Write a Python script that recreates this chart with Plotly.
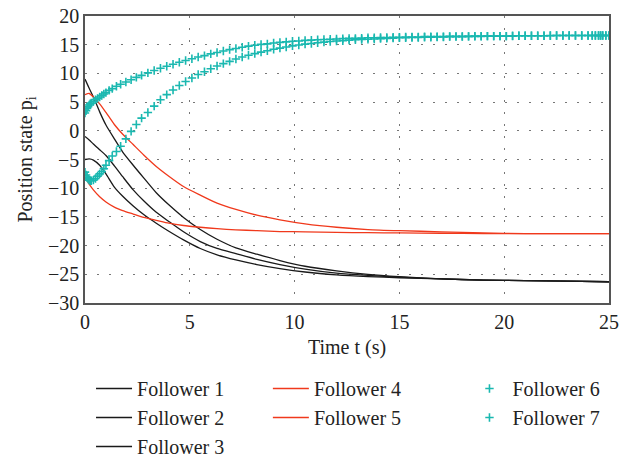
import plotly.graph_objects as go

# time samples for the solid curves (s)
t_line = [0, 0.2, 0.4, 0.7, 1.0, 1.4, 1.8, 2.3, 2.8, 3.4, 4.0, 4.7, 5.5, 6.3, 7.2,
          8.2, 9.3, 10.5, 12, 13.5, 15, 17, 19, 21, 23, 25]

follower1 = [9.0, 7.4, 5.9, 3.3, 1.0, -1.4, -3.7, -6.0, -8.2, -10.8, -12.9, -15.1, -17.2,
             -18.9, -20.4, -21.5, -22.6, -23.6, -24.4, -25.0, -25.4, -25.8, -26.0, -26.1,
             -26.2, -26.3]
follower2 = [-1.0, -1.6, -2.3, -3.3, -4.3, -6.1, -8.0, -10.3, -12.2, -14.2, -15.8, -17.6,
             -19.3, -20.5, -21.4, -22.4, -23.3, -24.1, -24.8, -25.2, -25.5, -25.8, -26.0,
             -26.1, -26.2, -26.3]
follower3 = [-5.0, -4.9, -5.1, -6.0, -7.5, -9.8, -11.4, -13.1, -14.6, -16.1, -17.5, -19.0,
             -20.5, -21.6, -22.5, -23.3, -24.0, -24.6, -25.1, -25.4, -25.6, -25.8, -26.0,
             -26.1, -26.2, -26.3]
follower4 = [6.3, 6.5, 5.9, 4.7, 3.2, 1.1, -0.6, -2.4, -4.2, -6.2, -7.9, -9.7, -11.2,
             -12.6, -13.7, -14.7, -15.5, -16.2, -16.8, -17.2, -17.4, -17.6, -17.8, -17.9,
             -17.9, -17.9]
follower5 = [-8.0, -9.3, -10.3, -11.5, -12.4, -13.3, -13.9, -14.5, -15.1, -15.6, -16.1,
             -16.5, -16.8, -17.05, -17.25, -17.4, -17.55, -17.6, -17.7, -17.75, -17.8,
             -17.85, -17.9, -17.9, -17.9, -17.9]

# time samples for the marker curves (s)
t_mark = [0, 0.05, 0.1, 0.15, 0.2, 0.25, 0.3, 0.4, 0.5, 0.6, 0.7, 0.8, 0.9, 1.0, 1.15,
          1.3, 1.5, 1.7, 1.95, 2.2, 2.45, 2.7, 3.0, 3.3, 3.6, 3.9, 4.2, 4.5, 4.8, 5.1,
          5.4, 5.7, 6.0, 6.3, 6.6, 6.9, 7.2, 7.5, 7.8, 8.1, 8.4, 8.7, 9.0, 9.3, 9.6,
          9.9, 10.2, 10.5, 10.8, 11.1, 11.4, 11.7, 12.0, 12.3, 12.6, 12.9, 13.2, 13.5,
          13.8, 14.1, 14.4, 14.7, 15.0, 15.3, 15.6, 15.9, 16.2, 16.5, 16.8, 17.1, 17.4,
          17.7, 18.0, 18.3, 18.6, 18.9, 19.2, 19.5, 19.8, 20.1, 20.4, 20.7, 21.0, 21.3,
          21.6, 21.9, 22.2, 22.5, 22.8, 23.1, 23.4, 23.7, 24.0, 24.2, 24.35, 24.5, 24.6,
          24.7, 24.85, 25.0]

follower6 = [3.1, 3.5, 3.9, 4.2, 4.5, 4.7, 4.85, 5.1, 5.4, 5.65, 5.9, 6.15, 6.4, 6.65,
             7.05, 7.35, 7.75, 8.1, 8.5, 8.9, 9.3, 9.65, 10.1, 10.5, 10.9, 11.25, 11.6,
             11.95, 12.25, 12.55, 12.85, 13.1, 13.4, 13.65, 13.9, 14.15, 14.35, 14.55,
             14.75, 14.9, 15.05, 15.15, 15.3, 15.4, 15.5, 15.6, 15.65, 15.75, 15.8,
             15.85, 15.9, 15.95, 16.0, 16.05, 16.1, 16.1, 16.15, 16.2, 16.2, 16.25,
             16.25, 16.3, 16.3, 16.35, 16.35, 16.35, 16.4, 16.4, 16.4, 16.4, 16.45,
             16.45, 16.45, 16.45, 16.5, 16.5, 16.5, 16.5, 16.5, 16.5, 16.55, 16.55,
             16.55, 16.55, 16.55, 16.55, 16.6, 16.6, 16.6, 16.6, 16.6, 16.6, 16.6,
             16.6, 16.6, 16.6, 16.6, 16.6, 16.6, 16.6]
follower7 = [-7.2, -7.7, -8.1, -8.4, -8.6, -8.7, -8.7, -8.6, -8.3, -7.9, -7.5, -7.1,
             -6.6, -6.0, -5.2, -4.4, -3.6, -2.7, -1.4, -0.1, 1.1, 2.2, 3.2, 4.3, 5.4,
             6.3, 7.1, 7.9, 8.6, 9.2, 9.8, 10.3, 10.8, 11.3, 11.7, 12.1, 12.5, 12.85,
             13.15, 13.45, 13.7, 13.95, 14.2, 14.4, 14.6, 14.8, 14.95, 15.1, 15.2,
             15.35, 15.45, 15.55, 15.65, 15.7, 15.8, 15.85, 15.9, 15.95, 16.0, 16.05,
             16.1, 16.15, 16.2, 16.2, 16.25, 16.25, 16.3, 16.3, 16.35, 16.35, 16.4,
             16.4, 16.4, 16.45, 16.45, 16.45, 16.5, 16.5, 16.5, 16.5, 16.5, 16.55,
             16.55, 16.55, 16.55, 16.55, 16.55, 16.6, 16.6, 16.6, 16.6, 16.6, 16.6,
             16.6, 16.6, 16.6, 16.6, 16.6, 16.6, 16.6]

x_ticks = [0, 5, 10, 15, 20, 25]
y_ticks = [20, 15, 10, 5, 0, -5, -10, -15, -20, -25, -30]

BLACK = "#1a1a1a"
RED = "#f0391c"
CYAN = "#1ab8b0"
FONT = "Liberation Serif"
FS = 20

fig = go.Figure()

line_series = [
    ("Follower 1", follower1, BLACK, "legend"),
    ("Follower 2", follower2, BLACK, "legend"),
    ("Follower 3", follower3, BLACK, "legend"),
    ("Follower 4", follower4, RED, "legend2"),
    ("Follower 5", follower5, RED, "legend2"),
]
for name, ys, col, lg in line_series:
    fig.add_trace(go.Scatter(
        x=t_line, y=ys, name=name, mode="lines",
        line=dict(color=col, width=1.3, shape="spline", smoothing=0.6),
        legend=lg, legendgroup=name,
    ))

for name, ys in [("Follower 6", follower6), ("Follower 7", follower7)]:
    fig.add_trace(go.Scatter(
        x=t_mark, y=ys, name=name, mode="markers",
        marker=dict(symbol="cross-thin", size=6, color=CYAN,
                    line=dict(color=CYAN, width=1.6)),
        legend="legend3", legendgroup=name,
    ))

axis_common = dict(
    showline=True, mirror=True, linecolor="#555555", linewidth=1.5,
    showgrid=True, gridcolor="#777777", gridwidth=1.2, griddash="1.5px,10.5px",
    zeroline=False, ticks="", tickfont=dict(family=FONT, size=FS, color="#222"),
)

leg_common = dict(
    orientation="v", xanchor="left", yanchor="top", bgcolor="rgba(0,0,0,0)",
    font=dict(family=FONT, size=FS, color="#222"), tracegroupgap=0, itemwidth=36,
)

fig.update_layout(
    width=632, height=460,
    margin=dict(l=85, r=23, t=16, b=157, autoexpand=False),
    paper_bgcolor="white", plot_bgcolor="white",
    font=dict(family=FONT, size=FS, color="#222"),
    xaxis=dict(range=[0, 25], tickvals=x_ticks, **axis_common,
               title=dict(text="Time t (s)", standoff=8,
                          font=dict(family=FONT, size=FS, color="#222"))),
    yaxis=dict(range=[-30, 20], tickvals=y_ticks, **axis_common,
               title=dict(text="Position state p<sub>i</sub>", standoff=10,
                          font=dict(family=FONT, size=FS, color="#222"))),
    legend=dict(x=0.0115, y=-0.23, **leg_common),
    legend2=dict(x=0.349, y=-0.23, **leg_common),
    legend3=dict(x=0.728, y=-0.23, **leg_common),
)

fig.write_html("out.html")
